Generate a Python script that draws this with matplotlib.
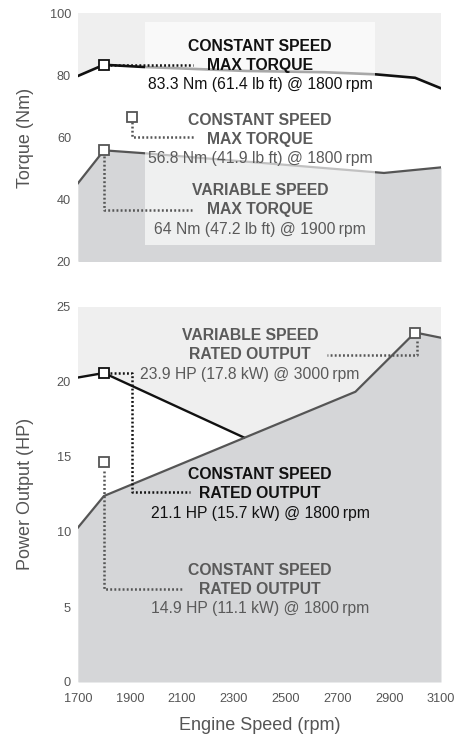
import numpy as np
import matplotlib
matplotlib.use("Agg")
import matplotlib.pyplot as plt
from matplotlib.patches import Rectangle

plt.rcParams['font.family'] = ['Liberation Sans', 'DejaVu Sans']

# ---------------- data ----------------
rpm_tq_const = [1700, 1800, 1950, 2350, 2650, 2850, 3000, 3100]
torque_const = [79.7, 83.3, 82.6, 81.3, 80.9, 80.2, 79.1, 75.7]
rpm_tq_var = [1700, 1800, 1950, 2880, 3100]
torque_var = [45.1, 55.7, 54.8, 48.4, 50.2]

rpm_hp_const = [1700, 1800, 2340]
power_const = [20.3, 20.6, 16.3]
rpm_hp_var = [1700, 1800, 2770, 3000, 3100]
power_var = [10.3, 12.4, 19.35, 23.3, 22.95]

x_ticks = [1700, 1900, 2100, 2300, 2500, 2700, 2900, 3100]
tq_ticks = [20, 40, 60, 80, 100]
hp_ticks = [0, 5, 10, 15, 20, 25]

# marker points (rpm, value, colour key)
tq_markers = [(1800, 83.3, 'k'), (1907, 66.5, 'g'), (1800, 55.7, 'g')]
hp_markers = [(1800, 20.6, 'k'), (1800, 14.7, 'g'), (3000, 23.3, 'g')]

# leader paths
tq_leaders = [
    ([1825, 2145], [83.3, 83.3], 'k'),
    ([1907, 1907, 2150], [64.8, 60.1, 60.1], 'g'),
    ([1800, 1800, 2140], [54.0, 36.6, 36.6], 'g'),
]
hp_leaders = [
    ([1825, 1907, 1907, 2132], [20.6, 20.6, 12.65, 12.65], 'k'),
    ([1800, 1800, 2100], [14.1, 6.22, 6.22], 'g'),
    ([3006, 3006, 2659], [22.75, 21.8, 21.8], 'g'),
]

# annotation texts: (rpm, value, text, bold, colour key)
tq_texts = [
    (2402, 89.1, 'CONSTANT SPEED', True, 'k'),
    (2402, 83.2, 'MAX TORQUE', True, 'k'),
    (2402, 76.8, '83.3 Nm (61.4 lb ft) @ 1800\u2009rpm', False, 'k'),
    (2402, 65.3, 'CONSTANT SPEED', True, 'g'),
    (2402, 59.3, 'MAX TORQUE', True, 'g'),
    (2402, 53.1, '56.8 Nm (41.9 lb ft) @ 1800\u2009rpm', False, 'g'),
    (2402, 42.7, 'VARIABLE SPEED', True, 'g'),
    (2402, 36.7, 'MAX TORQUE', True, 'g'),
    (2402, 30.2, '64 Nm (47.2 lb ft) @ 1900\u2009rpm', False, 'g'),
]
hp_texts = [
    (2363, 23.09, 'VARIABLE SPEED', True, 'g'),
    (2363, 21.8, 'RATED OUTPUT', True, 'g'),
    (2363, 20.51, '23.9 HP (17.8 kW) @ 3000\u2009rpm', False, 'g'),
    (2402, 13.85, 'CONSTANT SPEED', True, 'k'),
    (2402, 12.58, 'RATED OUTPUT', True, 'k'),
    (2402, 11.25, '21.1 HP (15.7 kW) @ 1800\u2009rpm', False, 'k'),
    (2402, 7.42, 'CONSTANT SPEED', True, 'g'),
    (2402, 6.2, 'RATED OUTPUT', True, 'g'),
    (2402, 4.91, '14.9 HP (11.1 kW) @ 1800\u2009rpm', False, 'g'),
]

# ---------------- style ----------------
BG = '#efefef'
FILL = '#d5d6d8'
GRAY = '#555555'
GRAYTXT = '#5a5a5a'
BLACK = '#111111'
TICKC = '#555555'
col = {'k': BLACK, 'g': GRAY}
tcol = {'k': BLACK, 'g': GRAYTXT}
FS = 11.3

W, H = 471, 734
fig = plt.figure(figsize=(W / 100, H / 100), dpi=100)
fig.patch.set_facecolor('white')

def px_axes(x0, y0, x1, y1):
    return fig.add_axes([x0 / W, 1 - y1 / H, (x1 - x0) / W, (y1 - y0) / H])

ax1 = px_axes(78, 13, 441, 261)
ax2 = px_axes(78, 307, 441, 682)

for ax in (ax1, ax2):
    ax.set_facecolor(BG)
    for s in ax.spines.values():
        s.set_visible(False)
    ax.tick_params(length=0, colors=TICKC, labelsize=9.2)
    ax.set_xlim(1700, 3100)
    ax.set_xticks(x_ticks)

ax1.set_ylim(20, 100)
ax1.set_yticks(tq_ticks)
ax1.tick_params(axis='x', labelbottom=False)
ax1.tick_params(axis='y', pad=5)
ax2.set_ylim(0, 25)
ax2.set_yticks(hp_ticks)
ax2.tick_params(axis='x', pad=8)
ax2.tick_params(axis='y', pad=5)

# ---- torque chart ----
ax1.fill(np.r_[rpm_tq_const, rpm_tq_var[::-1]], np.r_[torque_const, torque_var[::-1]],
         color='white', lw=0, zorder=1)
ax1.fill_between(rpm_tq_var, 0, torque_var, color=FILL, lw=0, zorder=1)
ax1.plot(rpm_tq_const, torque_const, color=BLACK, lw=1.9, zorder=2, solid_joinstyle='miter')
ax1.plot(rpm_tq_var, torque_var, color=GRAY, lw=1.6, zorder=2, solid_joinstyle='miter')
ax1.add_patch(Rectangle((1958, 25.2), 2845 - 1958, 97.1 - 25.2, facecolor='white',
                        alpha=0.64, lw=0, zorder=3))

# ---- power chart ----
mask = [x < rpm_hp_const[-1] for x in rpm_hp_var]
vx = [x for x, m in zip(rpm_hp_var, mask) if m]
vy = [y for y, m in zip(power_var, mask) if m]
ax2.fill(np.r_[rpm_hp_const, vx[::-1]], np.r_[power_const, vy[::-1]],
         color='white', lw=0, zorder=1)
ax2.fill_between(rpm_hp_var, 0, power_var, color=FILL, lw=0, zorder=1)
ax2.plot(rpm_hp_const, power_const, color=BLACK, lw=1.7, zorder=2, solid_joinstyle='miter')
ax2.plot(rpm_hp_var, power_var, color=GRAY, lw=1.6, zorder=2, solid_joinstyle='miter')

for ax, leaders, markers, texts in ((ax1, tq_leaders, tq_markers, tq_texts),
                                    (ax2, hp_leaders, hp_markers, hp_texts)):
    for xs, ys, c in leaders:
        ax.plot(xs, ys, color=col[c], lw=1.8, linestyle=(0, (0.75, 0.9)), zorder=4,
                dash_capstyle='butt')
    for x, y, c in markers:
        ax.plot([x], [y], marker='s', ms=7.5, mfc='white', mec=col[c], mew=1.3,
                zorder=5, clip_on=False)
    for x, y, t, b, c in texts:
        ax.text(x, y, t, ha='center', va='center', fontsize=FS,
                fontweight='bold' if b else 'normal', color=tcol[c], zorder=6)

fig.text(26 / W, 1 - 138 / H, 'Torque (Nm)', rotation=90, ha='center', va='center',
         fontsize=13, color=TICKC)
fig.text(26 / W, 1 - 494 / H, 'Power Output (HP)', rotation=90, ha='center', va='center',
         fontsize=13, color=TICKC)
fig.text(260 / W, 1 - 725 / H, 'Engine Speed (rpm)', ha='center', va='center',
         fontsize=13, color=TICKC)

fig.savefig('out.png', dpi=100, facecolor='white')
